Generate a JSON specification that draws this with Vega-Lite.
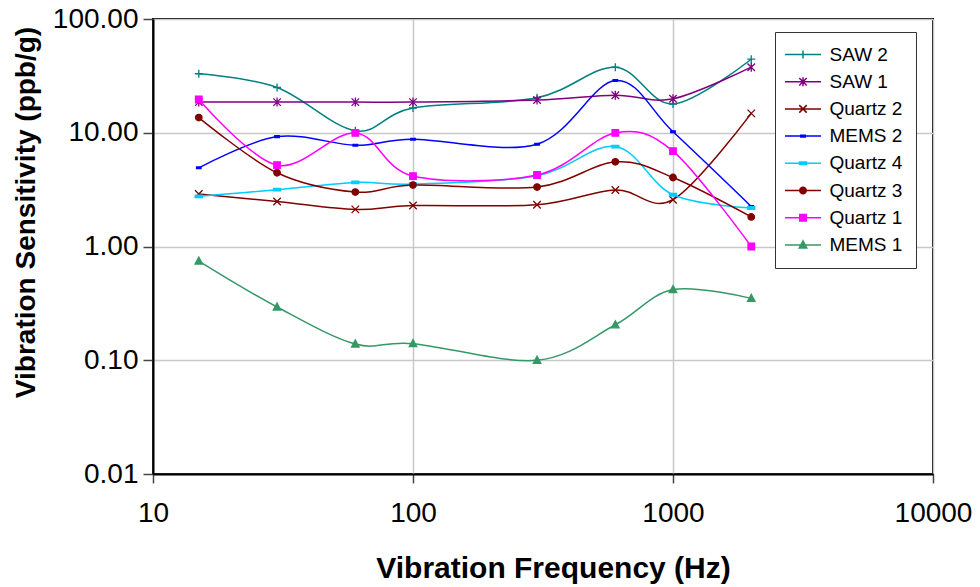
{
  "$schema": "https://vega.github.io/schema/vega-lite/v6.json",
  "width": 780,
  "height": 455,
  "autosize": {"type": "none"},
  "padding": {"left": 153, "top": 19, "right": 47, "bottom": 113},
  "background": "white",
  "config": {
    "font": "Liberation Sans",
    "view": {"stroke": "black", "strokeWidth": 2},
    "axis": {
      "labelColor": "black",
      "titleColor": "black",
      "domainColor": "black",
      "domainWidth": 2,
      "tickColor": "#444444",
      "tickWidth": 1.5,
      "gridColor": "#c8c8c8",
      "gridWidth": 1.5,
      "labelFont": "Liberation Sans",
      "titleFont": "Liberation Sans"
    }
  },
  "data": {
    "values": [
      {"f": 15, "v": 33, "s": "SAW 2"},
      {"f": 30, "v": 25, "s": "SAW 2"},
      {"f": 60, "v": 10.4, "s": "SAW 2"},
      {"f": 100, "v": 16.5, "s": "SAW 2"},
      {"f": 300, "v": 20.3, "s": "SAW 2"},
      {"f": 600, "v": 37.7, "s": "SAW 2"},
      {"f": 1000, "v": 17.9, "s": "SAW 2"},
      {"f": 2000, "v": 44.3, "s": "SAW 2"},
      {"f": 15, "v": 18.6, "s": "SAW 1"},
      {"f": 30, "v": 18.6, "s": "SAW 1"},
      {"f": 60, "v": 18.6, "s": "SAW 1"},
      {"f": 100, "v": 18.6, "s": "SAW 1"},
      {"f": 300, "v": 19.4, "s": "SAW 1"},
      {"f": 600, "v": 21.4, "s": "SAW 1"},
      {"f": 1000, "v": 19.9, "s": "SAW 1"},
      {"f": 2000, "v": 37.7, "s": "SAW 1"},
      {"f": 15, "v": 2.89, "s": "Quartz 2"},
      {"f": 30, "v": 2.49, "s": "Quartz 2"},
      {"f": 60, "v": 2.12, "s": "Quartz 2"},
      {"f": 100, "v": 2.29, "s": "Quartz 2"},
      {"f": 300, "v": 2.33, "s": "Quartz 2"},
      {"f": 600, "v": 3.14, "s": "Quartz 2"},
      {"f": 1000, "v": 2.58, "s": "Quartz 2"},
      {"f": 2000, "v": 14.8, "s": "Quartz 2"},
      {"f": 15, "v": 4.92, "s": "MEMS 2"},
      {"f": 30, "v": 9.25, "s": "MEMS 2"},
      {"f": 60, "v": 7.77, "s": "MEMS 2"},
      {"f": 100, "v": 8.77, "s": "MEMS 2"},
      {"f": 300, "v": 7.93, "s": "MEMS 2"},
      {"f": 600, "v": 28.8, "s": "MEMS 2"},
      {"f": 1000, "v": 10.2, "s": "MEMS 2"},
      {"f": 2000, "v": 2.25, "s": "MEMS 2"},
      {"f": 15, "v": 2.76, "s": "Quartz 4"},
      {"f": 30, "v": 3.16, "s": "Quartz 4"},
      {"f": 60, "v": 3.66, "s": "Quartz 4"},
      {"f": 100, "v": 3.54, "s": "Quartz 4"},
      {"f": 300, "v": 4.19, "s": "Quartz 4"},
      {"f": 600, "v": 7.56, "s": "Quartz 4"},
      {"f": 1000, "v": 2.85, "s": "Quartz 4"},
      {"f": 2000, "v": 2.18, "s": "Quartz 4"},
      {"f": 15, "v": 13.6, "s": "Quartz 3"},
      {"f": 30, "v": 4.45, "s": "Quartz 3"},
      {"f": 60, "v": 3.01, "s": "Quartz 3"},
      {"f": 100, "v": 3.47, "s": "Quartz 3"},
      {"f": 300, "v": 3.33, "s": "Quartz 3"},
      {"f": 600, "v": 5.55, "s": "Quartz 3"},
      {"f": 1000, "v": 4.04, "s": "Quartz 3"},
      {"f": 2000, "v": 1.82, "s": "Quartz 3"},
      {"f": 15, "v": 19.6, "s": "Quartz 1"},
      {"f": 30, "v": 5.19, "s": "Quartz 1"},
      {"f": 60, "v": 9.96, "s": "Quartz 1"},
      {"f": 100, "v": 4.16, "s": "Quartz 1"},
      {"f": 300, "v": 4.25, "s": "Quartz 1"},
      {"f": 600, "v": 9.96, "s": "Quartz 1"},
      {"f": 1000, "v": 6.89, "s": "Quartz 1"},
      {"f": 2000, "v": 1.0, "s": "Quartz 1"},
      {"f": 15, "v": 0.745, "s": "MEMS 1"},
      {"f": 30, "v": 0.294, "s": "MEMS 1"},
      {"f": 60, "v": 0.139, "s": "MEMS 1"},
      {"f": 100, "v": 0.14, "s": "MEMS 1"},
      {"f": 300, "v": 0.1, "s": "MEMS 1"},
      {"f": 600, "v": 0.205, "s": "MEMS 1"},
      {"f": 1000, "v": 0.418, "s": "MEMS 1"},
      {"f": 2000, "v": 0.35, "s": "MEMS 1"}
    ]
  },
  "encoding": {
    "x": {
      "field": "f",
      "type": "quantitative",
      "scale": {"type": "log", "domain": [10, 10000], "nice": false},
      "axis": {
        "title": "Vibration Frequency (Hz)",
        "values": [10, 100, 1000, 10000],
        "format": "d",
        "labelFontSize": 28,
        "labelFlush": false,
        "labelOverlap": false,
        "labelPadding": 16,
        "tickSize": 9,
        "grid": true,
        "titleFontSize": 30,
        "titleFontWeight": "bold",
        "titleBaseline": "alphabetic",
        "titleAnchor": "start",
        "titleAlign": "center",
        "titleX": 400,
        "titleY": 103
      }
    },
    "y": {
      "field": "v",
      "type": "quantitative",
      "scale": {"type": "log", "domain": [0.01, 100], "nice": false},
      "axis": {
        "title": "Vibration Sensitivity (ppb/g)",
        "values": [0.01, 0.1, 1, 10, 100],
        "format": ".2f",
        "labelFontSize": 28,
        "labelPadding": 5,
        "labelFlush": false,
        "labelOverlap": false,
        "tickSize": 10,
        "grid": true,
        "titleFontSize": 28,
        "titleFontWeight": "bold",
        "titleAngle": -90,
        "titleBaseline": "alphabetic",
        "titleAlign": "center",
        "titleX": -119,
        "titleY": 193
      }
    }
  },
  "layer": [
    {
      "mark": {"type": "line", "interpolate": "cardinal", "strokeWidth": 1.5},
      "encoding": {
        "color": {
          "field": "s",
          "type": "nominal",
          "scale": {
            "domain": ["SAW 2", "SAW 1", "Quartz 2", "MEMS 2", "Quartz 4", "Quartz 3", "Quartz 1", "MEMS 1"],
            "range": ["#008080", "#800080", "#800000", "#0000ff", "#00ccff", "#800000", "#ff00ff", "#339966"]
          }
        },
        "detail": {"field": "s"}
      }
    },
    {
      "mark": {"type": "point", "filled": true, "opacity": 1, "size": 100, "strokeWidth": 1.3},
      "encoding": {
        "color": {
          "field": "s",
          "type": "nominal",
          "scale": {
            "domain": ["SAW 2", "SAW 1", "Quartz 2", "MEMS 2", "Quartz 4", "Quartz 3", "Quartz 1", "MEMS 1"],
            "range": ["#008080", "#800080", "#800000", "#0000ff", "#00ccff", "#800000", "#ff00ff", "#339966"]
          },
          "legend": {
            "title": null,
            "orient": "none",
            "legendX": 622,
            "legendY": 13,
            "padding": 13,
            "rowPadding": 7.2,
            "strokeColor": "#333333",
            "fillColor": "white",
            "cornerRadius": 0,
            "labelFontSize": 19,
            "labelColor": "black",
            "labelFont": "Liberation Sans",
            "symbolSize": 100,
            "symbolOffset": 5.5,
            "labelOffset": 17,
            "encoding": {
              "symbols": {
                "shape": {"value": {"signal": "{'SAW 2': 'M-3.6,0H3.6M-0.8,0H0.8M0,-0.8V0.8', 'SAW 1': 'M-3.6,0H3.6M-0.75,-0.75L0.75,0.75M-0.75,0.75L0.75,-0.75M0,-0.9V0.9', 'Quartz 2': 'M-3.6,0H3.6M-0.75,-0.75L0.75,0.75M-0.75,0.75L0.75,-0.75', 'MEMS 2': 'M-3.6,0H3.6M-0.45,-0.18H0.45V0.18H-0.45Z', 'Quartz 4': 'M-3.6,0H3.6M-0.7,-0.25H0.7V0.25H-0.7Z', 'Quartz 3': 'M-3.6,0H3.6M0.65,0A0.65,0.65,0,1,1,-0.65,0A0.65,0.65,0,1,1,0.65,0Z', 'Quartz 1': 'M-3.6,0H3.6M-0.65,-0.65H0.65V0.65H-0.65Z', 'MEMS 1': 'M-3.6,0H3.6M0,-0.8L0.75,0.6H-0.75Z'}[datum.value]"}},
                "stroke": {"value": {"signal": "scale('color', datum.value)"}},
                "strokeWidth": {"value": 1.5},
                "opacity": {"value": 1}
              }
            }
          }
        },
        "stroke": {
          "field": "s",
          "type": "nominal",
          "scale": {
            "domain": ["SAW 2", "SAW 1", "Quartz 2", "MEMS 2", "Quartz 4", "Quartz 3", "Quartz 1", "MEMS 1"],
            "range": ["#008080", "#800080", "#800000", "#0000ff", "#00ccff", "#800000", "#ff00ff", "#339966"]
          },
          "legend": null
        },
        "shape": {
          "field": "s",
          "type": "nominal",
          "scale": {
            "domain": ["MEMS 1", "Quartz 1", "Quartz 3", "Quartz 4", "MEMS 2", "Quartz 2", "SAW 1", "SAW 2"],
            "range": [
              "M0,-0.8L0.75,0.6H-0.75Z",
              "M-0.65,-0.65H0.65V0.65H-0.65Z",
              "M0.65,0A0.65,0.65,0,1,1,-0.65,0A0.65,0.65,0,1,1,0.65,0Z",
              "M-0.7,-0.25H0.7V0.25H-0.7Z",
              "M-0.45,-0.18H0.45V0.18H-0.45Z",
              "M-0.75,-0.75L0.75,0.75M-0.75,0.75L0.75,-0.75",
              "M-0.75,-0.75L0.75,0.75M-0.75,0.75L0.75,-0.75M0,-0.9V0.9",
              "M-0.8,0H0.8M0,-0.8V0.8"
            ]
          },
          "legend": null
        }
      }
    }
  ]
}
